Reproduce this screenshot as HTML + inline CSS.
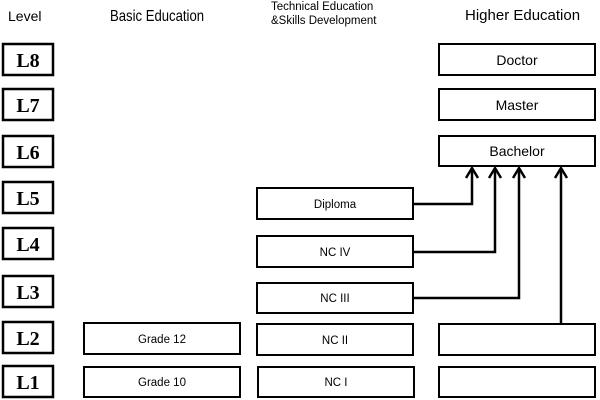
<!DOCTYPE html>
<html><head><meta charset="utf-8"><style>
html,body{margin:0;padding:0;background:#fff;}
svg{display:block;}
</style></head><body>
<svg width="600" height="400" viewBox="0 0 600 400" xmlns="http://www.w3.org/2000/svg" font-family="Liberation Sans, sans-serif">
<g fill="#000">
<text x="8" y="21" font-size="14">Level</text>
<text x="0" y="21" font-size="16" transform="translate(110 0) scale(0.82 1)">Basic Education</text>
<text x="271" y="10" font-size="11.5">Technical Education</text>
<text x="271" y="24" font-size="11.5">&amp;Skills Development</text>
<text x="465" y="20" font-size="15">Higher Education</text>
</g>
<g fill="none" stroke="#000" stroke-width="2.5">
<rect x="3" y="44" width="50" height="31"/>
<rect x="3" y="89" width="50" height="31"/>
<rect x="3" y="136" width="50" height="31"/>
<rect x="3" y="182" width="50" height="31"/>
<rect x="3" y="228" width="50" height="31"/>
<rect x="3" y="276" width="50" height="31"/>
<rect x="3" y="322" width="50" height="31"/>
<rect x="3" y="366" width="50" height="31"/>
</g>
<g fill="#000" font-family="Liberation Serif, serif" font-weight="bold" font-size="20" text-anchor="middle">
<text x="28" y="67">L8</text>
<text x="28" y="112">L7</text>
<text x="28" y="159">L6</text>
<text x="28" y="205">L5</text>
<text x="28" y="251">L4</text>
<text x="28" y="299">L3</text>
<text x="28" y="345">L2</text>
<text x="28" y="389">L1</text>
</g>
<g fill="none" stroke="#000" stroke-width="2">
<rect x="84" y="323" width="156" height="31"/>
<rect x="84" y="367" width="156" height="30"/>
<rect x="257" y="188" width="156" height="31"/>
<rect x="257" y="236" width="156" height="31"/>
<rect x="257" y="283" width="156" height="30"/>
<rect x="257" y="324" width="156" height="31"/>
<rect x="258" y="367" width="156" height="30"/>
<rect x="439" y="44" width="156" height="31"/>
<rect x="439" y="89" width="156" height="31"/>
<rect x="439" y="136" width="156" height="30"/>
<rect x="439" y="324" width="156" height="31"/>
<rect x="439" y="367" width="156" height="30"/>
</g>
<g fill="#000" text-anchor="middle">
<text x="162" y="343" font-size="11.5">Grade 12</text>
<text x="162" y="386" font-size="11.5">Grade 10</text>
<text x="335" y="208" font-size="11.5">Diploma</text>
<text x="335" y="256" font-size="11.5">NC IV</text>
<text x="335" y="302" font-size="11.5">NC III</text>
<text x="335" y="344" font-size="11.5">NC II</text>
<text x="336" y="386" font-size="11.5">NC I</text>
<text x="517" y="65" font-size="14">Doctor</text>
<text x="517" y="110" font-size="14">Master</text>
<text x="517" y="156" font-size="14">Bachelor</text>
</g>
<g fill="none" stroke="#000" stroke-width="2.5">
<polyline points="413,204 472,204 472,168"/>
<polyline points="413,252 495,252 495,168"/>
<polyline points="413,298 519,298 519,168"/>
<polyline points="561,324 561,168"/>
<polyline points="466,178 472,168 478,178"/>
<polyline points="489,178 495,168 501,178"/>
<polyline points="513,178 519,168 525,178"/>
<polyline points="555,178 561,168 567,178"/>
</g>
</svg>
</body></html>
